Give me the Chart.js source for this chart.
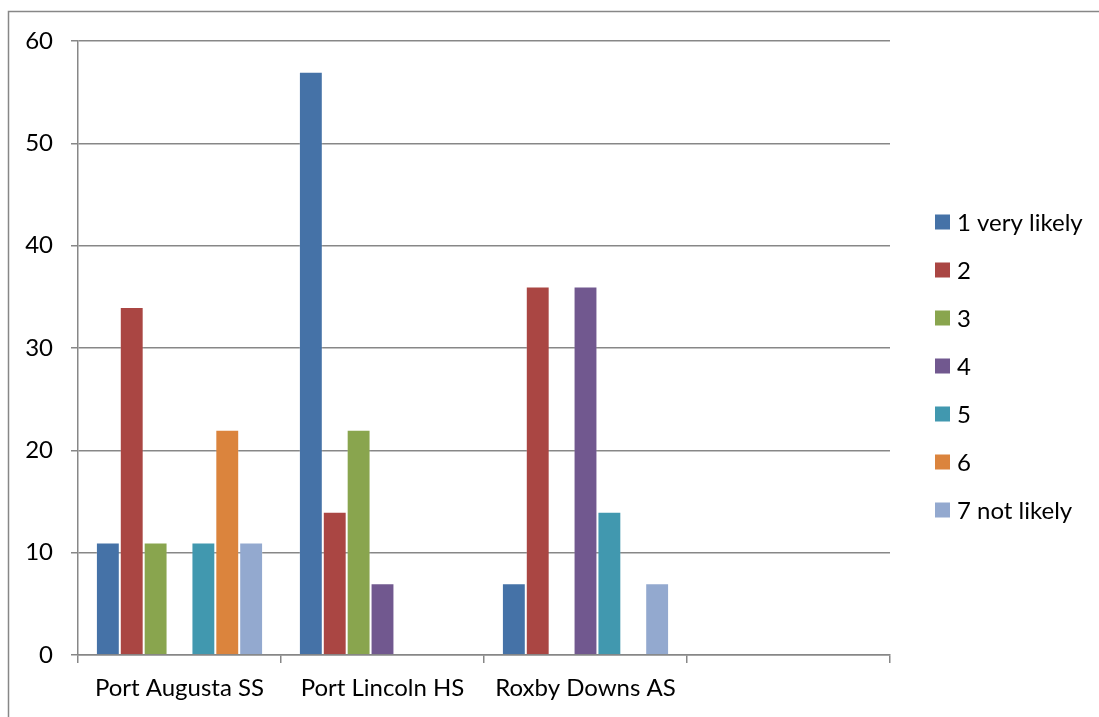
<!DOCTYPE html>
<html>
<head>
  <title>Schools chart</title>
  <style>
    html, body { margin: 0; padding: 0; background: #fff; }
    .chart-box { position: relative; width: 1099px; height: 717px; }
  </style>
</head>
<body>
  <div class="chart-box">
    <canvas id="barChart"></canvas>
  </div>

  <script src="https://cdn.jsdelivr.net/npm/chart.js"></script>
  <script>
    // data
    const schools = ['Port Augusta SS', 'Port Lincoln HS', 'Roxby Downs AS', ''];
    const seriesNames = ['1 very likely', '2', '3', '4', '5', '6', '7 not likely'];
    const likely1 = [11, 57, 7, null];
    const likely2 = [34, 14, 36, null];
    const likely3 = [11, 22, null, null];
    const likely4 = [null, 7, 36, null];
    const likely5 = [11, null, 14, null];
    const likely6 = [22, null, null, null];
    const likely7 = [11, null, 7, null];
    const yTicks = [0, 10, 20, 30, 40, 50, 60];

    const seriesValues = [likely1, likely2, likely3, likely4, likely5, likely6, likely7];
    const colors = ['#4572A7', '#AA4643', '#89A54E', '#71588F', '#4198AF', '#DB843D', '#93A9CF'];
    const gridGrey = '#878787';
    const fontFamily = 'Lato, "Open Sans", sans-serif';
    const fontSize = 24;

    const datasets = seriesNames.map((name, i) => ({
      label: name,
      data: seriesValues[i],
      backgroundColor: colors[i],
      borderColor: 'rgba(255,255,255,0.2)',
      borderWidth: 1,
      categoryPercentage: 7 / 8.5,
      barPercentage: 1
    }));

    // outer frame (only top and left edge show in the original)
    const framePlugin = {
      id: 'frame',
      beforeDraw(chart) {
        const ctx = chart.ctx;
        ctx.save();
        ctx.strokeStyle = gridGrey;
        ctx.lineWidth = 1.5;
        ctx.beginPath();
        ctx.moveTo(8.5, chart.height);
        ctx.lineTo(8.5, 11.5);
        ctx.lineTo(chart.width, 11.5);
        ctx.stroke();
        ctx.restore();
      }
    };

    // legend drawn on the right like the spreadsheet one
    const sideLegend = {
      id: 'sideLegend',
      afterDraw(chart) {
        const ctx = chart.ctx;
        ctx.save();
        ctx.font = fontSize + 'px ' + fontFamily;
        ctx.textBaseline = 'middle';
        chart.data.datasets.forEach((ds, i) => {
          const cy = 222 + i * 48;
          ctx.fillStyle = ds.backgroundColor;
          ctx.fillRect(935, cy - 7.5, 15, 15);
          ctx.fillStyle = '#000';
          ctx.fillText(ds.label, 957, cy + 1);
        });
        ctx.restore();
      }
    };

    new Chart(document.getElementById('barChart'), {
      type: 'bar',
      data: { labels: schools, datasets: datasets },
      options: {
        responsive: true,
        maintainAspectRatio: false,
        animation: false,
        layout: { padding: { top: 41, right: 209, bottom: 0, left: 0 } },
        plugins: {
          legend: { display: false },
          tooltip: { enabled: false }
        },
        scales: {
          x: {
            grid: {
              display: true,
              offset: true,
              drawOnChartArea: false,
              drawTicks: true,
              tickLength: 8,
              color: gridGrey,
              lineWidth: 1.5
            },
            border: { display: true, color: gridGrey, width: 1.5 },
            ticks: {
              color: '#000',
              font: { family: fontFamily, size: fontSize },
              padding: 11,
              maxRotation: 0,
              autoSkip: false
            },
            afterFit(scale) { scale.height = 62; }
          },
          y: {
            min: 0,
            max: 60,
            afterBuildTicks(scale) { scale.ticks = yTicks.map(v => ({ value: v })); },
            grid: {
              color: gridGrey,
              lineWidth: 1.5,
              tickLength: 7
            },
            border: { display: true, color: gridGrey, width: 1.5 },
            ticks: {
              color: '#000',
              font: { family: fontFamily, size: fontSize },
              padding: 18
            },
            afterFit(scale) { scale.width = 78; }
          }
        }
      },
      plugins: [framePlugin, sideLegend]
    });
  </script>
</body>
</html>
